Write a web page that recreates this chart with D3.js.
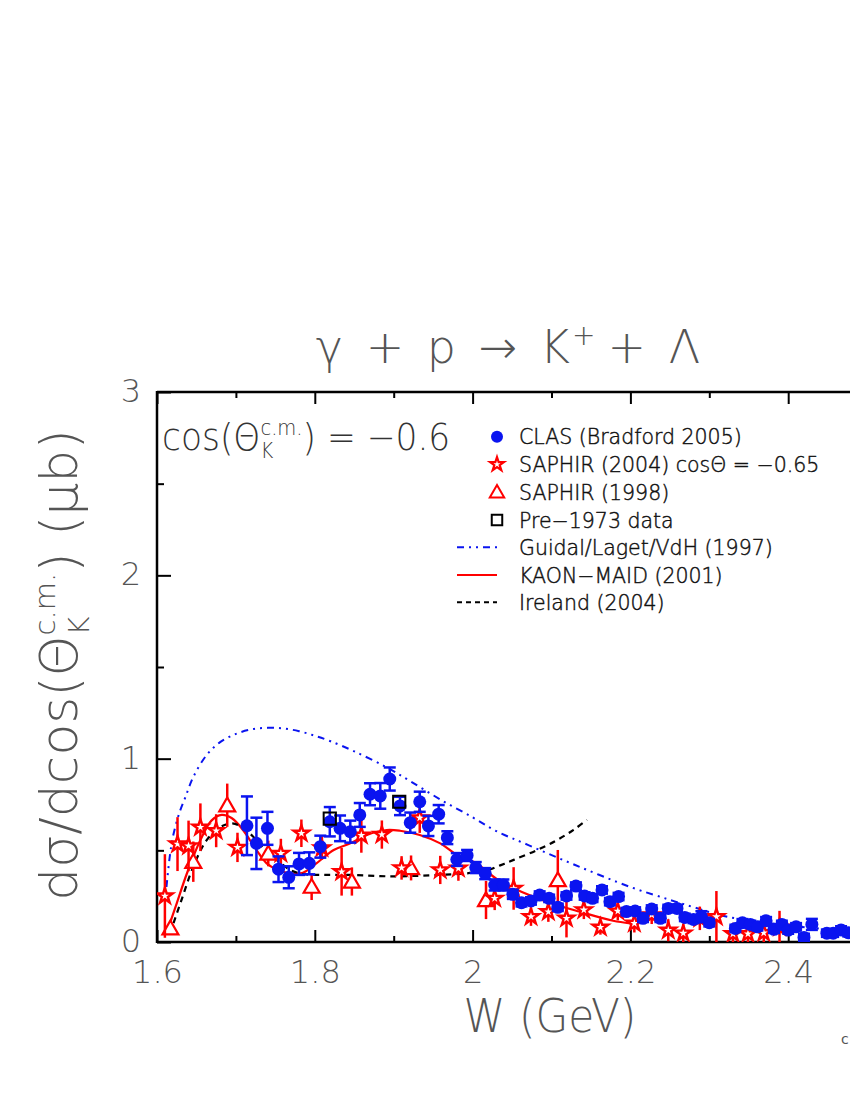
<!DOCTYPE html>
<html><head><meta charset="utf-8">
<script src="https://cdn.jsdelivr.net/npm/d3@7"></script>
<style>body{margin:0;background:#fff;} svg{display:block;}</style>
</head><body><svg id="c" width="850" height="1100"></svg>
<script>
// ---------------- data ----------------
const clasW = [1.714,1.726,1.740,1.754,1.767,1.780,1.793,1.807,1.819,1.832,1.845,1.857,1.870,1.883,1.895,1.908,1.921,1.933,1.944,1.957,1.968,1.980,1.993,2.004,2.016,2.028,2.039,2.051,2.062,2.074,2.085,2.097,2.108,2.119,2.131,2.142,2.152,2.164,2.174,2.185,2.195,2.206,2.216,2.227,2.238,2.248,2.259,2.269,2.280,2.290,2.300,2.333,2.342,2.352,2.361,2.372,2.382,2.392,2.400,2.410,2.420,2.430,2.449,2.457,2.467,2.476];
const clasY = [0.634,0.538,0.620,0.397,0.353,0.426,0.429,0.520,0.656,0.620,0.602,0.693,0.806,0.797,0.889,0.742,0.651,0.765,0.633,0.697,0.569,0.450,0.472,0.406,0.373,0.311,0.311,0.260,0.214,0.224,0.256,0.238,0.189,0.251,0.305,0.251,0.238,0.284,0.220,0.248,0.166,0.169,0.129,0.180,0.129,0.183,0.183,0.134,0.123,0.138,0.105,0.074,0.105,0.096,0.083,0.116,0.069,0.096,0.065,0.083,0.025,0.096,0.048,0.048,0.066,0.051];
const clasErr = [0.16,0.14,0.09,0.07,0.06,0.06,0.06,0.06,0.08,0.07,0.06,0.065,0.06,0.07,0.063,0.05,0.055,0.055,0.055,0.05,0.035,0.035,0.03,0.03,0.03,0.03,0.03,0.025,0.02,0.02,0.02,0.02,0.02,0.02,0.02,0.02,0.02,0.02,0.02,0.02,0.02,0.02,0.02,0.02,0.02,0.02,0.02,0.02,0.02,0.03,0.02,0.02,0.02,0.02,0.02,0.02,0.02,0.02,0.02,0.02,0.02,0.03,0.02,0.02,0.02,0.02];

const saph04W = [1.610,1.626,1.640,1.655,1.675,1.702,1.757,1.783,1.809,1.834,1.859,1.885,1.910,1.933,1.959,1.982,2.028,2.052,2.074,2.096,2.119,2.141,2.162,2.184,2.205,2.227,2.248,2.267,2.288,2.309,2.330,2.349,2.369,2.389];
const saph04Y = [0.251,0.534,0.524,0.626,0.607,0.516,0.483,0.593,0.513,0.383,0.582,0.586,0.404,0.677,0.393,0.402,0.238,0.292,0.138,0.165,0.129,0.175,0.080,0.168,0.102,0.148,0.064,0.048,0.129,0.138,0.045,0.045,0.050,0.080];
const saph04Err = [0.228,0.147,0.138,0.13,0.09,0.08,0.08,0.075,0.064,0.13,0.095,0.077,0.064,0.082,0.077,0.068,0.064,0.116,0.05,0.055,0.104,0.05,0.04,0.05,0.05,0.05,0.06,0.05,0.064,0.14,0.05,0.05,0.06,0.09];

const saph98W = [1.617,1.646,1.689,1.741,1.796,1.847,1.922,2.017,2.108];
const saph98Y = [0.075,0.438,0.746,0.483,0.302,0.330,0.404,0.229,0.338];
const saph98Err = [0.03,0.11,0.118,0.07,0.073,0.077,0.068,0.104,0.164];

const pre73W = [1.819,1.907];
const pre73Y = [0.673,0.765];

const guidalW = [1.612,1.616,1.620,1.628,1.636,1.646,1.663,1.680,1.700,1.720,1.740,1.760,1.780,1.800,1.820,1.850,1.890,1.920,1.960,2.000,2.030,2.070,2.130,2.200,2.250,2.280,2.320,2.400,2.480];
const guidalY = [0.30,0.46,0.57,0.70,0.79,0.90,1.02,1.09,1.135,1.16,1.168,1.165,1.15,1.125,1.095,1.04,0.955,0.88,0.775,0.68,0.605,0.53,0.42,0.30,0.23,0.19,0.14,0.09,0.06];

const maidW = [1.612,1.625,1.638,1.655,1.669,1.682,1.695,1.709,1.726,1.739,1.755,1.769,1.785,1.802,1.824,1.845,1.866,1.891,1.908,1.933,1.959,1.980,2.005,2.030,2.052,2.094,2.136,2.178,2.200];
const maidY = [0.047,0.211,0.375,0.556,0.662,0.693,0.675,0.611,0.502,0.429,0.390,0.375,0.378,0.429,0.502,0.538,0.584,0.611,0.607,0.584,0.538,0.475,0.429,0.345,0.293,0.220,0.165,0.116,0.102];

const irelandW = [1.6165,1.631,1.646,1.663,1.680,1.695,1.707,1.722,1.737,1.752,1.769,1.785,1.811,1.845,1.900,1.957,1.985,2.000,2.018,2.035,2.052,2.081,2.107,2.128,2.145];
const irelandY = [0.047,0.229,0.411,0.556,0.626,0.647,0.629,0.574,0.502,0.447,0.393,0.371,0.366,0.366,0.358,0.366,0.372,0.378,0.390,0.418,0.448,0.500,0.556,0.612,0.666];

const xMajorTicks = [1.6,1.8,2.0,2.2,2.4];
const xMinorTicks = [1.7,1.9,2.1,2.3,2.5];
const xTickLabels = ["1.6","1.8","2","2.2","2.4"];
const yMajorTicks = [0,1,2,3];
const yMinorTicks = [0.5,1.5,2.5];
const legendLabels = ["CLAS (Bradford 2005)","SAPHIR (2004) cos\u0398 = \u22120.65","SAPHIR (1998)","Pre\u22121973 data","Guidal/Laget/VdH (1997)","KAON\u2212MAID (2001)","Ireland (2004)"];

// ---------------- drawing ----------------
const svg = d3.select("#c");
const L = 157, T = 392, B = 942, R = 946;
const x = d3.scaleLinear().domain([1.6, 2.6]).range([L, R]);
const y = d3.scaleLinear().domain([0, 3]).range([B, T]);
const BLUE = "#0a14f0", RED = "#ff0000";
const thinFont = "'DejaVu Sans ExtraLight','DejaVu Sans',sans-serif";

svg.append("defs").append("clipPath").attr("id","plotclip")
  .append("rect").attr("x",L).attr("y",T).attr("width",R-L).attr("height",B-T);

// axes
function styleAxis(g){
  g.select(".domain").remove();
  g.selectAll(".tick line").attr("stroke","#000").attr("stroke-width",2);
  g.selectAll(".tick text").attr("fill","#555").attr("font-family",thinFont).attr("font-size",32).attr("font-weight",200);
}
const xAxisMaj = svg.append("g").attr("transform",`translate(0,${B})`)
  .call(d3.axisBottom(x).tickValues(xMajorTicks).tickSize(-12).tickPadding(18).tickFormat((d,i)=>xTickLabels[i]));
styleAxis(xAxisMaj);
const xAxisMin = svg.append("g").attr("transform",`translate(0,${B})`)
  .call(d3.axisBottom(x).tickValues(xMinorTicks).tickSize(-6).tickFormat(""));
styleAxis(xAxisMin);
const xTopMaj = svg.append("g").attr("transform",`translate(0,${T})`)
  .call(d3.axisTop(x).tickValues(xMajorTicks).tickSize(-12).tickFormat(""));
styleAxis(xTopMaj);
const xTopMin = svg.append("g").attr("transform",`translate(0,${T})`)
  .call(d3.axisTop(x).tickValues(xMinorTicks).tickSize(-6).tickFormat(""));
styleAxis(xTopMin);
const yAxisMaj = svg.append("g").attr("transform",`translate(${L},0)`)
  .call(d3.axisLeft(y).tickValues(yMajorTicks).tickSize(-14).tickPadding(16).tickFormat(d3.format("d")));
styleAxis(yAxisMaj);
yAxisMaj.selectAll(".tick text").attr("dy","0.3em");
const yAxisMin = svg.append("g").attr("transform",`translate(${L},0)`)
  .call(d3.axisLeft(y).tickValues(yMinorTicks).tickSize(-7).tickFormat(""));
styleAxis(yAxisMin);

// frame
[[L,R,B,B],[L,R,T,T],[L,L,T-1,B+1],[R,R,T-1,B+1]].forEach(c=>
  svg.append("line").attr("x1",c[0]).attr("x2",c[1]).attr("y1",c[2]).attr("y2",c[3]).attr("stroke","#000").attr("stroke-width",2.5));

const plot = svg.append("g").attr("clip-path","url(#plotclip)");

// curves
const zip = (a,b)=>a.map((v,i)=>[v,b[i]]);
const line = d3.line().x(d=>x(d[0])).y(d=>y(d[1])).curve(d3.curveCatmullRom.alpha(0.5));
plot.append("path").attr("d",line(zip(guidalW,guidalY))).attr("fill","none").attr("stroke",BLUE).attr("stroke-width",2)
  .attr("stroke-dasharray","7,5,2,5,2,5");
plot.append("path").attr("d",line(zip(maidW,maidY))).attr("fill","none").attr("stroke",RED).attr("stroke-width",2.2);
plot.append("path").attr("d",line(zip(irelandW,irelandY))).attr("fill","none").attr("stroke","#000").attr("stroke-width",2.2)
  .attr("stroke-dasharray","6,5");

const star = d3.symbol().type(d3.symbolStar).size(75);
const tri = d3.symbol().type(d3.symbolTriangle).size(110);
const sq = d3.symbol().type(d3.symbolSquare).size(150);

function errBars(W,Y,E,color,cap){
  const g = plot.append("g");
  W.forEach((w,i)=>{
    g.append("line").attr("x1",x(w)).attr("x2",x(w)).attr("y1",y(Y[i]-E[i])).attr("y2",y(Y[i]+E[i]))
      .attr("stroke",color).attr("stroke-width",2.5);
    if(cap){
      [Y[i]-E[i],Y[i]+E[i]].forEach(v=>g.append("line").attr("x1",x(w)-6).attr("x2",x(w)+6).attr("y1",y(v)).attr("y2",y(v))
        .attr("stroke",color).attr("stroke-width",2.5));
    }
  });
}
// SAPHIR 1998
errBars(saph98W,saph98Y,saph98Err,RED,false);
plot.append("g").selectAll("path").data(zip(saph98W,saph98Y)).join("path")
  .attr("d",tri).attr("transform",d=>`translate(${x(d[0])},${y(d[1])+1.5})`)
  .attr("fill","#fff").attr("stroke",RED).attr("stroke-width",2.2);
// SAPHIR 2004
errBars(saph04W,saph04Y,saph04Err,RED,false);
plot.append("g").selectAll("path").data(zip(saph04W,saph04Y)).join("path")
  .attr("d",star).attr("transform",d=>`translate(${x(d[0])},${y(d[1])})`)
  .attr("fill","#fff").attr("stroke",RED).attr("stroke-width",2.4);
// CLAS
errBars(clasW,clasY,clasErr,BLUE,true);
plot.append("g").selectAll("circle").data(zip(clasW,clasY)).join("circle")
  .attr("cx",d=>x(d[0])).attr("cy",d=>y(d[1])).attr("r",6.5).attr("fill",BLUE);
// Pre-1973
plot.append("g").selectAll("path").data(zip(pre73W,pre73Y)).join("path")
  .attr("d",sq).attr("transform",d=>`translate(${x(d[0])},${y(d[1])})`)
  .attr("fill","none").attr("stroke","#000").attr("stroke-width",2);

// rich text helper: lays out pieces left to right
function rich(parent, parts, opt){
  const outer = parent.append("g");
  const g = outer.append("g");
  let cx = 0, lastStart = 0;
  parts.forEach(p=>{
    const px = (p.stack ? lastStart : cx) + (p.dx||0);
    const t = g.append("text").attr("x",px).attr("y",p.dy||0).attr("font-size",p.fs)
      .attr("font-family",thinFont).attr("font-weight",200).attr("fill",opt.color)
      .attr("letter-spacing",opt.ls||0).text(p.t);
    const w = t.node().getComputedTextLength();
    if(p.stack){ cx = Math.max(cx, lastStart + w); } else { lastStart = px; cx = px + w; }
  });
  const sx = opt.sx||1;
  const shift = opt.anchor==="start" ? 0 : -cx/2;
  g.attr("transform",`scale(${sx},1) translate(${shift},0)`);
  outer.attr("transform",`translate(${opt.x},${opt.y})` + (opt.rotate?` rotate(${opt.rotate})`:""));
  return outer;
}

// title
rich(svg,[{t:"\u03B3 + p \u2192 K",fs:46},{t:"+",fs:28,dy:-18,dx:-2},{t:" + \u039B",fs:46,dx:8}],
  {x:510,y:363,color:"#555",ls:4});
// x label
rich(svg,[{t:"W (GeV)",fs:46}],{x:550,y:1032,color:"#555",sx:0.92});
// y label
rich(svg,[{t:"d\u03C3/dcos(\u0398",fs:52},{t:"c.m.",fs:29,dy:-22},{t:"K",fs:29,dy:12,stack:true},{t:") (\u03BCb)",fs:52}],
  {x:77,y:665,rotate:-90,color:"#555"});
// cos label inside the frame
rich(svg,[{t:"cos(\u0398",fs:37},{t:"c.m.",fs:21,dy:-15},{t:"K",fs:21,dy:8,stack:true},{t:") = \u22120.6",fs:37}],
  {x:162,y:450,color:"#333",anchor:"start",sx:0.93});

// legend
const leg = svg.append("g");
const rows = [436.7,464.3,492.3,520,547.3,575,602.3];
const lx = 497, tx = 519;
legendLabels.forEach((s,i)=>{
  leg.append("text").attr("x",tx).attr("y",rows[i]+7.5).attr("font-family",thinFont).attr("font-weight",200)
    .attr("font-size",20.5).attr("fill","#111").attr("stroke","#111").attr("stroke-width",0.45).text(s);
});
leg.append("circle").attr("cx",lx).attr("cy",rows[0]).attr("r",6).attr("fill",BLUE);
leg.append("path").attr("d",d3.symbol().type(d3.symbolStar).size(60)).attr("transform",`translate(${lx},${rows[1]})`).attr("fill","#fff").attr("stroke",RED).attr("stroke-width",2.2);
leg.append("path").attr("d",d3.symbol().type(d3.symbolTriangle).size(90)).attr("transform",`translate(${lx},${rows[2]+1})`).attr("fill","#fff").attr("stroke",RED).attr("stroke-width",2);
leg.append("path").attr("d",d3.symbol().type(d3.symbolSquare).size(110)).attr("transform",`translate(${lx},${rows[3]})`).attr("fill","none").attr("stroke","#000").attr("stroke-width",2);
leg.append("line").attr("x1",457).attr("x2",lx).attr("y1",rows[4]).attr("y2",rows[4]).attr("stroke",BLUE).attr("stroke-width",2).attr("stroke-dasharray","7,5,2,5,2,5");
leg.append("line").attr("x1",457).attr("x2",lx).attr("y1",rows[5]).attr("y2",rows[5]).attr("stroke",RED).attr("stroke-width",2.2);
leg.append("line").attr("x1",457).attr("x2",lx).attr("y1",rows[6]).attr("y2",rows[6]).attr("stroke","#000").attr("stroke-width",2).attr("stroke-dasharray","5,4");

// stray corner glyph
svg.append("text").attr("x",841).attr("y",1044).attr("font-family",thinFont).attr("font-size",14).attr("fill","#555").text("c");
</script>
</body></html>
